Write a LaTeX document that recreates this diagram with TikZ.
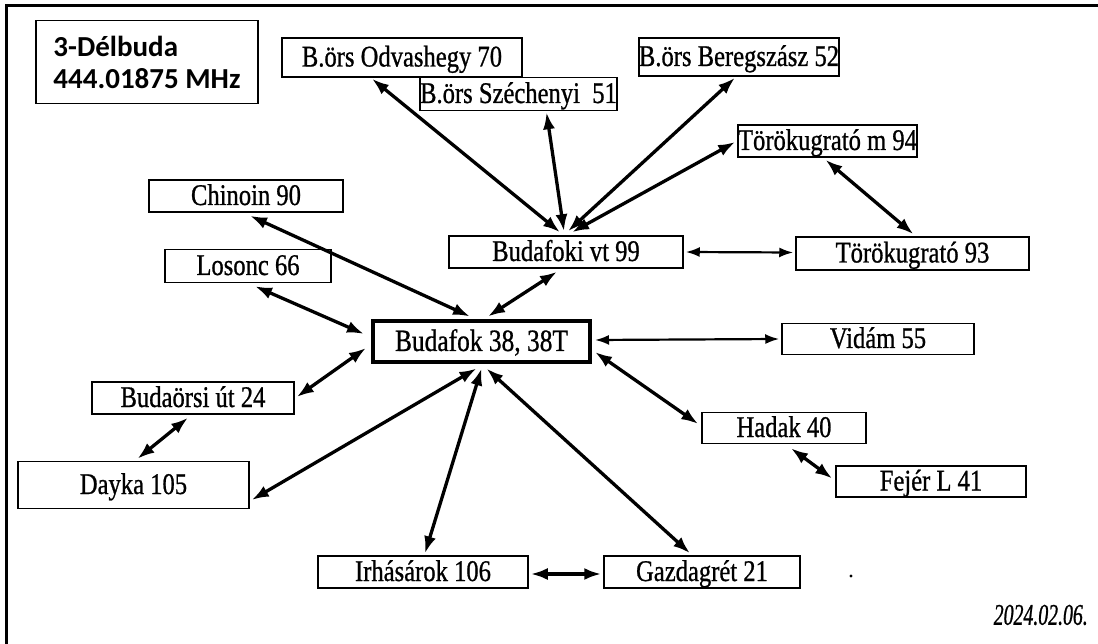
\documentclass[tikz,border=0pt]{standalone}
\usepackage{fontspec}
\setmainfont[FakeStretch=0.82,FakeBold=0.8]{Liberation Serif}
\newfontfamily\titlefont{Carlito}
\newfontfamily\datefont[FakeStretch=0.66,FakeBold=0.8]{Liberation Serif}
\usetikzlibrary{arrows.meta,calc}
\begin{document}
\begin{tikzpicture}[x=1pt,y=-1pt,
  box/.style={draw, line width=1.5pt, fill=white, inner sep=0pt,
    text height=19pt, text depth=1pt,
    font=\fontsize{30}{32}\selectfont},
  mainbox/.style={box, line width=4pt},
  link/.style={line width=3.3pt,
    {Latex[length=17pt,width=12pt]}-{Latex[length=17pt,width=12pt]}},
  thinlink/.style={line width=2.2pt,
    {Latex[length=14pt,width=10pt]}-{Latex[length=14pt,width=10pt]}}]
\useasboundingbox (0,0) rectangle (1098,644);
\fill[white] (0,0) rectangle (1098,644);
% frame
\draw[line width=3pt] (6,644) -- (6,6) -- (1098,6);
% title
\node[draw, line width=1.5pt, align=left, inner sep=0pt,
  minimum width=222pt, minimum height=83pt,
  font=\titlefont\bfseries\fontsize{29}{32}\selectfont]
  (title) at (147,62) {3-Délbuda\\444.01875 MHz};
% boxes
\node[box, minimum width=240pt, minimum height=39pt] (odv) at (402,57.5) {B.örs Odvashegy 70};
\node[box, minimum width=191pt, minimum height=33pt] (sze) at (518.5,94) {B.örs Széchenyi\ \ 51};
\node[box, minimum width=178pt, minimum height=38pt] (ber) at (739,57) {B.örs Beregszász 52};
\node[box, minimum width=177pt, minimum height=32pt] (tm94) at (827.5,141) {Törökugrató m 94};
\node[box, minimum width=194pt, minimum height=32pt] (chi) at (246,196) {Chinoin 90};
\node[box, minimum width=166pt, minimum height=33pt] (los) at (248,266) {Losonc 66};
\node[box, minimum width=234pt, minimum height=32pt] (bvt) at (566,252) {Budafoki vt 99};
\node[box, minimum width=233pt, minimum height=33pt] (t93) at (912.5,253.5) {Törökugrató 93};
\node[mainbox, minimum width=217pt, minimum height=41pt, font=\fontsize{31}{33}\selectfont] (bud) at (481.5,342) {Budafok 38, 38T};
\node[box, minimum width=192pt, minimum height=31pt] (vid) at (878,339) {Vidám 55};
\node[box, minimum width=202pt, minimum height=32pt] (bao) at (193,398) {Budaörsi út 24};
\node[box, minimum width=164pt, minimum height=31pt] (had) at (784,428) {Hadak 40};
\node[box, minimum width=190pt, minimum height=31pt] (fej) at (931,481.5) {Fejér L 41};
\node[box, minimum width=231pt, minimum height=47pt] (day) at (133.5,485) {Dayka 105};
\node[box, minimum width=210pt, minimum height=32pt] (irh) at (423,572) {Irhásárok 106};
\node[box, minimum width=196pt, minimum height=32pt] (gaz) at (702,572) {Gazdagrét 21};
% connectors
\draw[link] ($(odv.south)+(-30,1)$) -- ($(bvt.north)+(-6,-3)$);
\draw[link] ($(sze.south)+(28,1)$) -- ($(bvt.north)+(-2,-4)$);
\draw[link] ($(ber.south)+(-4,1)$) -- ($(bvt.north)+(2,-4)$);
\draw[link] ($(tm94.west)+(-2,1)$) -- ($(bvt.north)+(6,-3)$);
\draw[link] ($(tm94.south)+(-2,2)$) -- ($(t93.north)+(1,-2)$);
\draw[thinlink] ($(bvt.east)+(2,0)$) -- ($(t93.west)+(-2,-1)$);
\draw[link] ($(bvt.south)+(-9,3)$) -- ($(bud.north)+(6.5,-3)$);
\draw[link] ($(chi.south)+(4,3)$) -- ($(bud.north)+(-11.5,-3)$);
\draw[link] ($(los.south)+(7,3)$) -- ($(bud.west)+(-7,-8)$);
\draw[link] ($(bao.east)+(2,-1)$) -- ($(bud.west)+(-5,6)$);
\draw[link] ($(day.east)+(2,15)$) -- ($(bud.south)+(-5,4)$);
\draw[link] ($(irh.north)+(2,-2)$) -- ($(bud.south)+(0,4)$);
\draw[link] ($(gaz.north)+(-12,-2)$) -- ($(bud.south)+(5,4)$);
\draw[link] ($(had.west)+(-3,-4)$) -- ($(bud.east)+(3,10)$);
\draw[thinlink] ($(vid.west)+(-2,0)$) -- ($(bud.east)+(3,-2)$);
\draw[link] ($(bao.south)+(-5,3)$) -- ($(day.north)+(4,-2)$);
\draw[link] ($(had.south)+(7,4)$) -- ($(fej.west)+(-3,-3)$);
\draw[link] ($(irh.east)+(2,2)$) -- ($(gaz.west)+(-2,2)$);
% dot and date
\fill (851,576) circle (1.6);
\node[anchor=east, inner sep=0pt, font=\datefont\itshape\fontsize{30}{32}\selectfont]
  (date) at (1088,615) {2024.02.06.};
\end{tikzpicture}
\end{document}
